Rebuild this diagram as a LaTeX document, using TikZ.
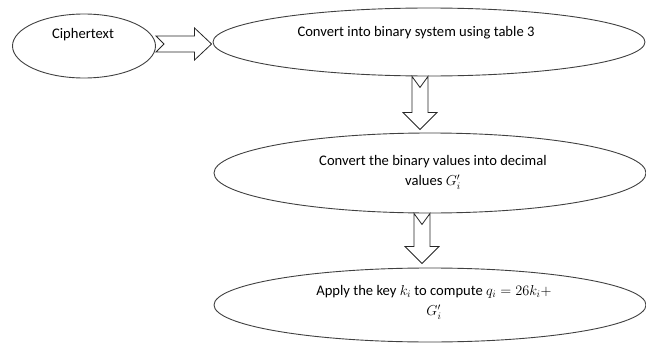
\documentclass[tikz,border=0pt]{standalone}
\usepackage{fontspec}
\setmainfont{Carlito}
\usetikzlibrary{shapes.geometric,calc}
\begin{document}
\begin{tikzpicture}[x=1pt,y=-1pt,
  oval/.style={draw=black!75, line width=0.9pt, ellipse, inner sep=0pt},
  txt/.style={font=\fontsize{14.6}{20.5}\selectfont, align=center, inner sep=0pt},
  blockdown/.style={draw=black!85, line width=0.8pt, to path={
    let \p1=(\tikztostart), \p2=(\tikztotarget) in
    (\x1-8,\y1) -- (\x1,\y1-11) -- (\x1+8,\y1) -- (\x1+8,\y2+17) -- (\x1+17,\y2+17)
    -- (\x1,\y2) -- (\x1-17,\y2+17) -- (\x1-8,\y2+17) -- cycle}},
  blockright/.style={draw=black!85, line width=0.8pt, to path={
    let \p1=(\tikztostart), \p2=(\tikztotarget) in
    (\x1,\y1+8) -- (\x2-17,\y1+8) -- (\x2-17,\y1+16) -- (\x2,\y1) -- (\x2-17,\y1-16)
    -- (\x2-17,\y1-8) -- (\x1,\y1-8) -- (\x1+8,\y1) -- cycle}}]
\useasboundingbox (0,0) rectangle (646,348);

\node[oval, minimum width=143, minimum height=64] (e1) at (84,46) {};
\node[oval, minimum width=432, minimum height=68] (e2) at (429,42) {};
\node[oval, minimum width=432, minimum height=80] (e3) at (430,173) {};
\node[oval, minimum width=432, minimum height=74] (e4) at (430,305) {};

\node[txt] (t1) at (83,35) {Ciphertext};
\node[txt] (t2) at (416,33) {Convert into binary system using table 3};
\node[txt] (t3) at (433,172) {Convert the binary values into decimal\\values $G'_i$};
\node[txt] (t4) at (434,302) {Apply the key $k_i$ to compute $q_i=26k_i+$\\$G'_i$};

\coordinate (r1s) at ([yshift=2pt]e1.east);
\coordinate (r1e) at ([xshift=-1pt,yshift=2pt]e1.east -| e2.west);
\coordinate (d1s) at ([xshift=-9pt]e2.south);
\coordinate (d1e) at ([xshift=-9pt,yshift=3pt]e3.north);
\coordinate (d2s) at ([xshift=-8pt]e3.south);
\coordinate (d2e) at ([xshift=-8pt,yshift=4pt]e4.north);

\draw[blockright] (r1s) to (r1e);
\draw[blockdown] (d1s) to (d1e);
\draw[blockdown] (d2s) to (d2e);
\end{tikzpicture}
\end{document}
